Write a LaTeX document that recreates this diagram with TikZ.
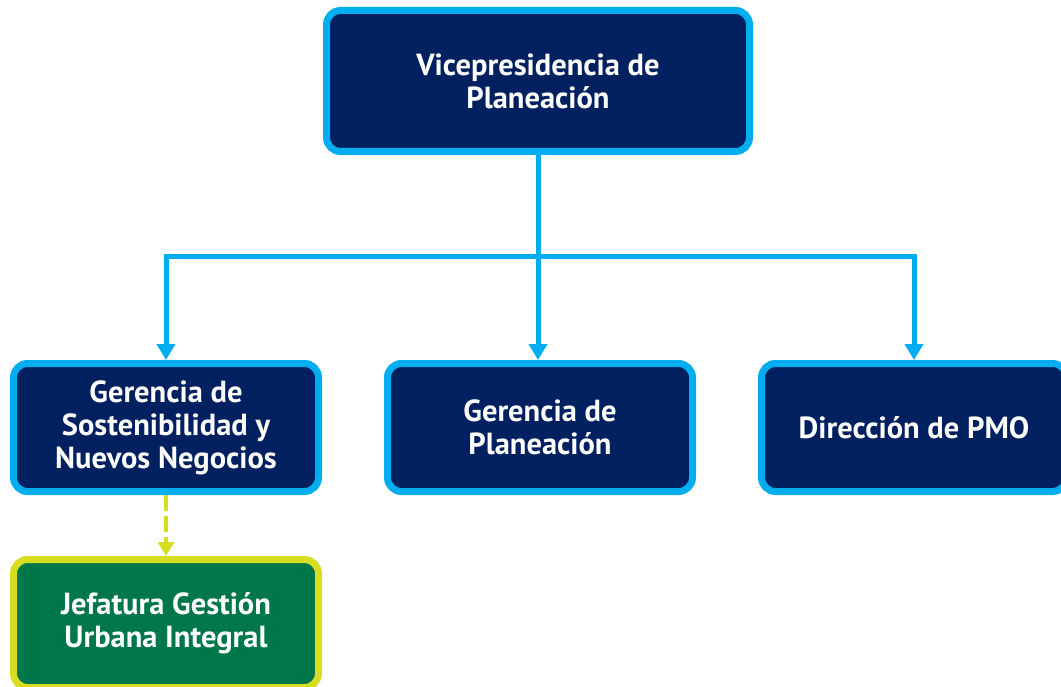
\documentclass[tikz,border=0pt]{standalone}
\usepackage{fontspec}
\setmainfont{PT Sans}
\usepackage{tikz}
\usepackage{xcolor}
\usetikzlibrary{positioning, arrows.meta}
\definecolor{azulosc}{HTML}{00205F}
\definecolor{azulcla}{HTML}{00AEEF}
\definecolor{verde}{HTML}{00774A}
\definecolor{amarillo}{HTML}{D7DE22}
\tikzstyle{cargo} = [rectangle, rounded corners=14pt, minimum width=305pt, minimum height=128pt, line width=7pt, draw=azulcla, fill=azulosc, text=white, font=\bfseries\fontsize{30.5}{33}\selectfont, align=center]
\tikzstyle{cargo2} = [cargo, draw=amarillo, fill=verde]
\tikzstyle{arrow} = [line width=5pt, draw=azulcla, -{Triangle[width=18pt,length=16pt]}]
\tikzstyle{arrow2} = [line width=4pt, draw=amarillo, dash pattern=on 16pt off 5pt, -{Triangle[width=16pt,length=14pt]}]
\begin{document}
\begin{tikzpicture}[x=1pt, y=-1pt, node distance=205pt and 62pt]
    \useasboundingbox (0,0) rectangle (1061,687);

    \node (vp) [cargo, minimum width=423pt, minimum height=141pt] at (538,81) {Vicepresidencia de\\Planeación};

    \node (gpl) [cargo, below=of vp, xshift=2pt] {Gerencia de\\Planeación};
    \node (gsn) [cargo, left=of gpl] {Gerencia de\\Sostenibilidad y\\Nuevos Negocios};
    \node (pmo) [cargo, right=of gpl] {Dirección de PMO};

    \node (jgu) [cargo2, below=61pt of gsn] {Jefatura Gestión\\Urbana Integral};

    \coordinate (rama) at ([yshift=-102pt]vp.south);
    \draw [arrow] (vp.south) -- (vp.south |- gpl.north);
    \draw [arrow] (rama) -| (gsn.north);
    \draw [arrow] (rama) -| (pmo.north);
    \draw [arrow2] (gsn) -- (jgu);

\end{tikzpicture}
\end{document}
